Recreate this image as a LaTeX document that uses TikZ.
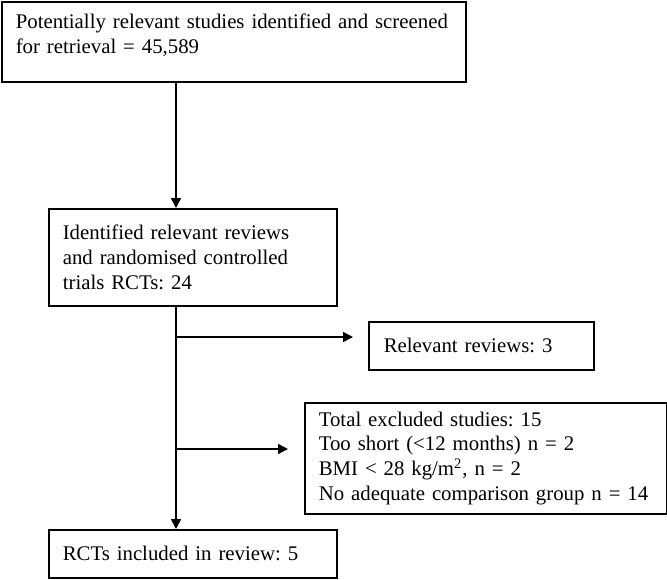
\documentclass[tikz,border=0pt]{standalone}
\usepackage{fontspec}
\setmainfont{Liberation Serif}
\usetikzlibrary{arrows.meta}

\begin{document}
\begin{tikzpicture}[x=0.5pt,y=-0.5pt,font=\fontsize{10.4pt}{12.35pt}\selectfont\frenchspacing]
\useasboundingbox (0,0) rectangle (667,579);
\coordinate (spine) at (176,0);

\begin{scope}[every node/.style={draw,line width=0.8pt,anchor=north west,align=left,inner xsep=7pt,inner ysep=0pt}]
    \node[text width=218pt,text height=13.5pt,text depth=26.5pt] (screened) at (1,1)
        {Potentially relevant studies identified and screened\\for retrieval = 45,589};
    \node[text width=130pt,minimum height=48.5pt] (identified) at (48,208)
        {Identified relevant reviews\\and randomised controlled\\trials RCTs: 24};
    \node[text width=97.5pt,inner xsep=7.5pt,minimum height=24pt] (reviews) at (368,321)
        {Relevant reviews: 3};
    \node[text width=167pt,minimum height=55.5pt] (excluded) at (304,402)
        {Total excluded studies: 15\\Too short (<12 months) n = 2\\BMI < 28 kg/m\textsuperscript{2}, n = 2\\No adequate comparison group n = 14};
    \node[text width=130pt,minimum height=24pt] (included) at (48,529)
        {RCTs included in review: 5};
\end{scope}

\begin{scope}[>={Triangle[length=5pt,width=5pt]}, line width=0.8pt]
    \coordinate (toreviews) at (176,337);
    \coordinate (toexcluded) at (176,449);
    \draw[->] (screened.south -| spine) -- (identified.north -| spine);
    \draw[->] (identified.south -| spine) -- (included.north -| spine);
    \draw[->,shorten >=7.5pt] (toreviews) -- (toreviews -| reviews.west);
    \draw[->,shorten >=8pt] (toexcluded) -- (toexcluded -| excluded.west);
\end{scope}
\end{tikzpicture}
\end{document}
